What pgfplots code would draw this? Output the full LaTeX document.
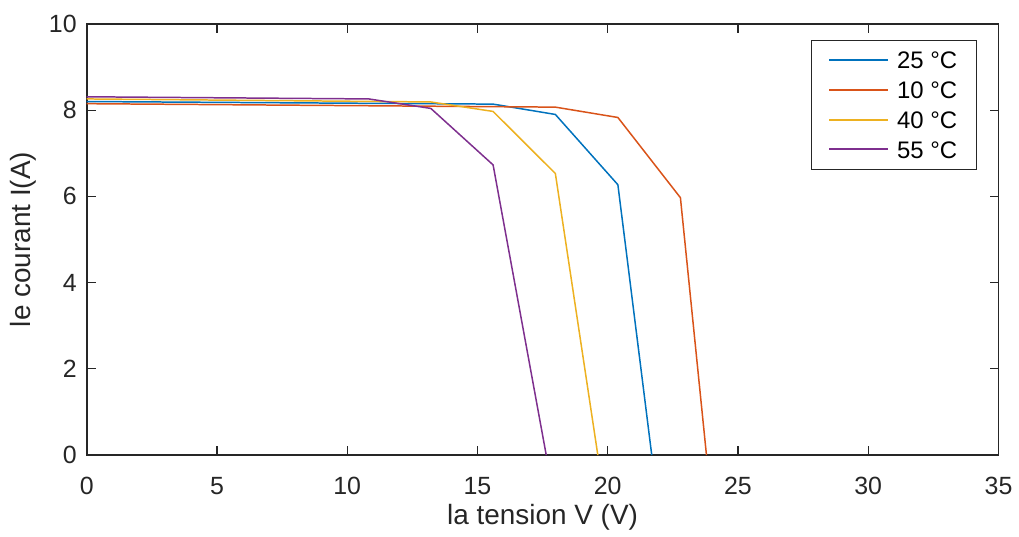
\documentclass[border=0pt]{standalone}
\usepackage{pgfplots}
\pgfplotsset{compat=1.18}
\usepackage{fontspec}
\setmainfont{Liberation Sans}
\definecolor{mblue}{rgb}{0,0.447,0.741}
\definecolor{mred}{rgb}{0.85,0.325,0.098}
\definecolor{myellow}{rgb}{0.929,0.694,0.125}
\definecolor{mpurple}{rgb}{0.494,0.184,0.556}
\definecolor{mframe}{rgb}{0.15,0.15,0.15}

\begin{document}
\begin{tikzpicture}
\begin{axis}[
  scale only axis, width=457.5pt, height=216.35pt,
  at={(0,0)}, anchor=south west,
  xmin=0, xmax=35, ymin=0, ymax=10,
  xtick={0,5,...,35}, ytick={0,2,...,10},
  tick align=inside, major tick length=4.5pt,
  axis line style={mframe, line width=0.9pt},
  every tick/.style={mframe, line width=0.6pt},
  tick label style={font=\fontsize{12.5}{14}\selectfont, text=mframe},
  xticklabel style={yshift=-7.5pt},
  yticklabel style={xshift=-1.5pt},
  /pgf/number format/assume math mode=true,
  xlabel={la tension V (V)}, ylabel={le courant I(A)},
  label style={font=\fontsize{14}{16}\selectfont, text=mframe},
  xlabel style={at={(axis description cs:0.5,0)}, anchor=north, yshift=-21pt},
  ylabel style={at={(axis description cs:0,0.5)}, anchor=center, yshift=32pt},
  legend cell align=left,
  legend style={at={(0.9716,0.963)}, anchor=north east, xshift=2pt, draw=mframe,
    font=\fontsize{12}{14}\selectfont, inner xsep=8.5pt, inner ysep=4.5pt,
    row sep=4.4pt, nodes={inner sep=1pt, text height=8.6pt, text depth=0pt},
    /tikz/every odd column/.append style={column sep=3pt}},
  legend image code/.code={\draw[#1, line width=1pt] (0pt,0pt) -- (29.5pt,0pt);},
  every axis plot/.append style={line width=0.75pt},
]
\addplot[draw=mblue] coordinates {(0,8.20) (15.60,8.14) (17.99,7.90) (20.39,6.27) (21.69,0)};
\addlegendentry{25 °C}
\addplot[draw=mred] coordinates {(0,8.15) (17.99,8.07) (20.39,7.83) (22.79,5.97) (23.79,0)};
\addlegendentry{10 °C}
\addplot[draw=myellow] coordinates {(0,8.26) (13.21,8.19) (15.60,7.97) (17.99,6.53) (19.62,0)};
\addlegendentry{40 °C}
\addplot[draw=mpurple] coordinates {(0,8.31) (10.83,8.26) (13.21,8.04) (15.60,6.73) (17.64,0)};
\addlegendentry{55 °C}
\end{axis}
\useasboundingbox (-43.5pt,-38.65pt) rectangle (466pt,228.35pt);
\end{tikzpicture}
\end{document}
